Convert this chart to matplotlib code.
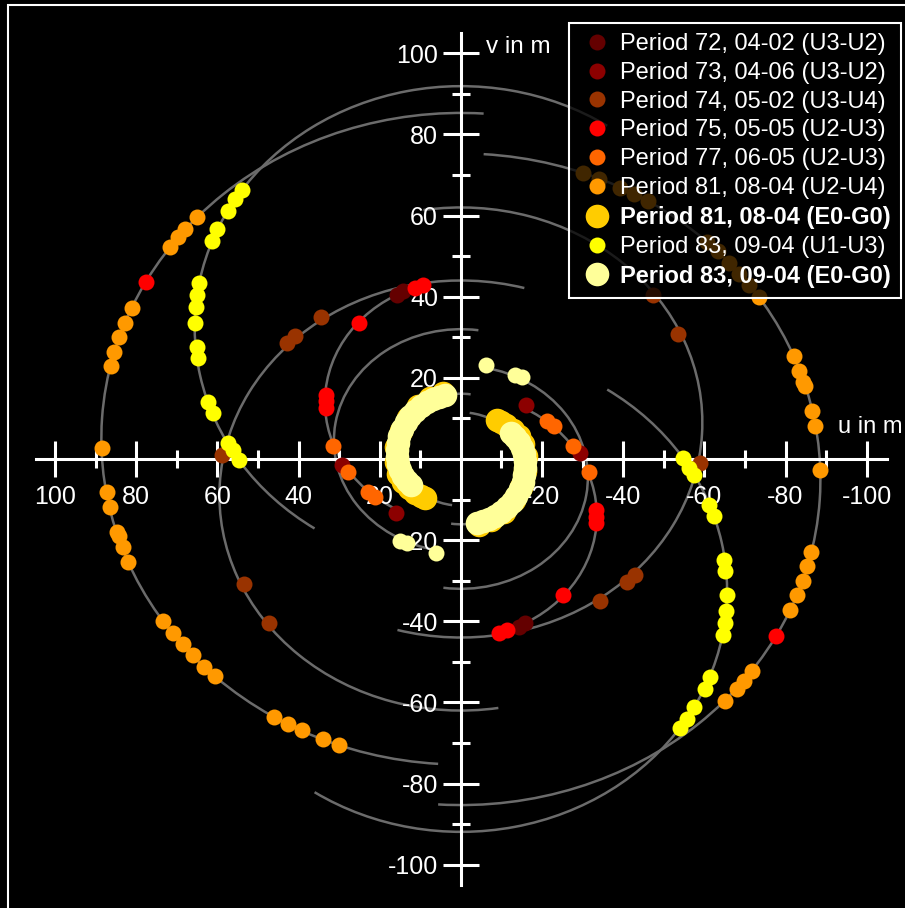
import numpy as np
import matplotlib.pyplot as plt
from matplotlib.patches import Arc, Rectangle

plt.rcParams['font.family'] = ['Liberation Sans', 'DejaVu Sans']

# uv points in metres (one half of the plane); the conjugate (-u, -v) is added below
p72_u = [15.8, 14.2]
p72_v = [40.5, 41.3]

p73_u = [-16.1, -29.4]
p73_v = [13.4, 1.6]

p74_u = [34.4, 40.9, 42.9, 53.4, 47.3, 58.8]
p74_v = [35.1, 30.4, 28.7, -30.9, -40.3, 1.0]

p75_u = [77.6, 25.1, 33.2, 33.2, 33.2, 11.3, 9.3]
p75_v = [43.7, 33.6, 15.8, 14.2, 12.6, 42.2, 42.9]

p77_u = [31.5, 27.7, 22.9, 21.2]
p77_v = [3.3, -3.1, -8.2, -9.4]

p81_u = [88.4, 87.2, 86.5, 84.7, 84.2, 83.2, 82.0, 73.4, 70.9, 68.5, 66.0, 63.3, 60.6,
         46.0, 42.6, 39.1, 34.0, 30.0, 65.0, 68.0, 69.7, 71.7, 81.0, 82.8, 84.2, 85.4, 86.2]
p81_v = [2.8, -8.2, -11.9, -17.9, -19.1, -21.6, -25.3, -39.9, -42.8, -45.5, -48.2, -51.2, -53.6,
         -63.5, -65.2, -66.9, -68.9, -70.4, 59.7, 56.7, 54.7, 52.3, 37.3, 33.6, 30.1, 26.4, 22.9]

p81eg_u = [4.5, 7.5, 10.5, 13.0, 14.8, 15.9, 16.0, 15.4, 14.2, 12.8, 11.2, 9.8, 8.9]
p81eg_v = [16.2, 15.0, 13.0, 10.2, 6.8, 3.0, -0.8, -3.6, -5.6, -7.2, -8.4, -9.2, -9.6]

p83_u = [53.9, 55.6, 57.4, 60.1, 61.3, 64.5, 65.0, 65.3, 65.5, 65.0, 64.8, 62.3, 61.1, 57.4, 56.2, 54.7]
p83_v = [66.4, 64.1, 61.2, 56.7, 53.8, 43.4, 40.4, 37.5, 33.6, 27.7, 24.9, 14.1, 11.4, 3.9, 2.3, -0.2]

p83eg_u = [3.9, 5.4, 6.9, 8.3, 9.8, 11.3, 12.5, 13.5, 14.5, 15.2, 15.5, 15.7, 15.7, 15.5, 15.0, 14.2, 13.3, 12.3]
p83eg_v = [15.8, 15.3, 14.8, 14.1, 13.1, 11.9, 10.7, 9.2, 7.5, 5.7, 4.0, 2.3, 0.6, -1.2, -2.6, -4.1, -5.4, -6.3]

extra_u = [15.0, 13.3, 6.1]
extra_v = [-20.2, -20.7, -23.2]

# uv tracks: ellipse centre v0, semi-axes a (u) and b (v), start/end angle in degrees
track_v0 = [5.0, 32.5, -9.0, 14.0, 4.5, 2.3]
track_a = [88.6, 65.6, 59.5, 33.5, 31.3, 15.6]
track_b = [80.3, 59.4, 53.0, 30.0, 27.5, 13.8]
track_t1 = [-86, -54, -100, -60, -78, -81]
track_t2 = [94, 126, 107, 72, 99, 100]

labels = ['Period 72, 04-02 (U3-U2)', 'Period 73, 04-06 (U3-U2)', 'Period 74, 05-02 (U3-U4)',
          'Period 75, 05-05 (U2-U3)', 'Period 77, 06-05 (U2-U3)', 'Period 81, 08-04 (U2-U4)',
          'Period 81, 08-04 (E0-G0)', 'Period 83, 09-04 (U1-U3)', 'Period 83, 09-04 (E0-G0)']
colors = ['#640000', '#8c0000', '#993300', '#ff0000', '#ff6600', '#ff9900',
          '#ffcc00', '#ffff00', '#ffff99']
sizes = [11.5, 11.5, 11.5, 11.5, 11.5, 11.5, 17, 11.5, 17]
data = [(p72_u, p72_v), (p73_u, p73_v), (p74_u, p74_v), (p75_u, p75_v), (p77_u, p77_v),
        (p81_u, p81_v), (p81eg_u, p81eg_v), (p83_u, p83_v), (p83eg_u, p83eg_v)]

fig = plt.figure(figsize=(9.05, 9.08), dpi=100, facecolor='black')
ax = fig.add_axes([36 / 905, 1 - 885 / 908, 851 / 905, 852 / 908])
ax.set_facecolor('black')
ax.set_xlim(104.7, -105)
ax.set_ylim(-105, 105)

for v0, a, b, t1, t2 in zip(track_v0, track_a, track_b, track_t1, track_t2):
    for sgn in (1, -1):
        arc = Arc((0, sgn * v0), 2 * a, 2 * b, theta1=t1 + (sgn < 0) * 180,
                  theta2=t2 + (sgn < 0) * 180, color='#6b6b6b', lw=1.8, zorder=1)
        ax.add_patch(arc)

for (u, v), lab, col, ms in zip(data, labels, colors, sizes):
    u = np.array(u)
    v = np.array(v)
    ax.plot(np.concatenate([u, -u]), np.concatenate([v, -v]), 'o', ls='none',
            color=col, ms=ms, mew=0, label=lab, zorder=3)
    if lab == labels[5]:
        ex_u = np.array(extra_u)
        ex_v = np.array(extra_v)
        ax.plot(np.concatenate([ex_u, -ex_u]), np.concatenate([ex_v, -ex_v]), 'o', ls='none',
                color='#ffff99', ms=11.5, mew=0, label='_nolegend_', zorder=3)

# axes as a cross through the origin
for side in ('top', 'right'):
    ax.spines[side].set_visible(False)
ax.spines['left'].set_position(('data', 0))
ax.spines['bottom'].set_position(('data', 0))
for side in ('left', 'bottom'):
    ax.spines[side].set_color('white')
    ax.spines[side].set_linewidth(2.2)
    ax.spines[side].set_zorder(2)

major = [100, 80, 60, 40, 20, -20, -40, -60, -80, -100]
minor = [90, 70, 50, 30, 10, -10, -30, -50, -70, -90]
ax.set_xticks(major, labels=[str(t) for t in major])
ax.set_yticks(major, labels=[str(t) for t in major])
ax.set_xticks(minor, minor=True)
ax.set_yticks(minor, minor=True)
ax.tick_params(which='major', direction='inout', length=26, width=2.2, colors='white',
               labelsize=18)
ax.tick_params(axis='x', which='major', pad=5.5)
ax.tick_params(axis='y', which='major', pad=3.5)
ax.tick_params(which='minor', direction='inout', length=13.5, width=2.2, colors='white')

ax.text(-6.3, 100.1, 'v in m', color='white', fontsize=17.5, ha='left', va='baseline')
ax.text(-93.0, 6.4, 'u in m', color='white', fontsize=17, ha='left', va='baseline',
        clip_on=False)

leg = ax.legend(loc='upper right', bbox_to_anchor=(900.5 / 905, 1 - 23 / 908),
                bbox_transform=fig.transFigure, borderaxespad=0, fancybox=False,
                edgecolor='white', fontsize=17, labelcolor='white', handlelength=1.6,
                handletextpad=0.15, borderpad=0.42, labelspacing=0.29, numpoints=1)
frame = leg.get_frame()
frame.set_alpha(None)
frame.set_facecolor((0, 0, 0, 0.75))
frame.set_edgecolor('white')
frame.set_linewidth(1.5)
for i in (6, 8):
    leg.get_texts()[i].set_fontweight('bold')

fig.add_artist(Rectangle((8 / 905, -0.1), 1.2, 1.1 - 5 / 908, transform=fig.transFigure,
                         fill=False, edgecolor='white', lw=1.5))

fig.savefig('out.png', dpi=100, facecolor='black')
